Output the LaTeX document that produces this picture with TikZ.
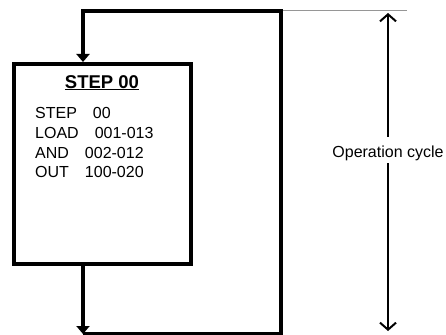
\documentclass[tikz,border=0pt]{standalone}
\usepackage{fontspec}
\setmainfont{Liberation Sans}
\usepackage{tikz}
\usetikzlibrary{arrows.meta, positioning, calc}
\definecolor{mydark}{RGB}{0,0,0}
\definecolor{mygray}{RGB}{150,150,150}
\tikzset{
  stepblock/.style={rectangle, draw=mydark, line width=4pt,
    minimum width=177pt, minimum height=199.5pt, inner sep=0pt},
  titletext/.style={inner sep=0pt, font=\fontsize{18.5}{22}\selectfont\bfseries},
  progtext/.style={inner sep=0pt, align=left, font=\fontsize{16}{19.7}\selectfont},
  flowarrow/.style={-{Triangle[length=8pt, width=13pt]}, line width=4pt, color=mydark},
  dimarrow/.style={-{Straight Barb[length=7pt, width=16pt]}, line width=2pt, color=mydark},
  thinline/.style={line width=1pt, color=mygray}
}

\begin{document}
\begin{tikzpicture}[x=1pt, y=-1pt, font=\fontsize{16}{19.7}\selectfont]
  \useasboundingbox (0,0) rectangle (446,334);

  \node[stepblock] (stepbox) at (102,163.75) {};
  \node[titletext, below=13pt of stepbox.north] (title) {\underline{STEP 00}};
  \node[progtext, below right=45.5pt and 23.5pt of stepbox.north west] (prog)
    {STEP\hspace{16pt}00\\LOAD\hspace{16pt}001-013\\AND\hspace{16pt}002-012\\OUT\hspace{16pt}100-020};

  % loop back to the step
  \coordinate (loopin) at (83,11);
  \coordinate (cornertr) at (281,11);
  \coordinate (cornerbr) at (281,334);
  \coordinate (loopout) at (83,334);
  \coordinate (guideend) at (407,11);

  \draw[thinline] (cornertr) -- (guideend);
  \draw[flowarrow] (loopout) -- (cornerbr) -- (cornertr) -- (loopin) -- (loopin |- stepbox.north);
  \draw[flowarrow] (loopin |- stepbox.south) -- (loopout);

  % operation cycle
  \coordinate (dimtop) at (388,13);
  \coordinate (dimbot) at (388,331);
  \node[anchor=base, inner xsep=0pt, inner ysep=5.7pt, text height=14.5pt, text depth=0pt]
    (cyclelbl) at (388,157.3) {Operation cycle};
  \draw[dimarrow] (cyclelbl.north) -- (dimtop);
  \draw[dimarrow] (cyclelbl.south) -- (dimbot);
\end{tikzpicture}
\end{document}
